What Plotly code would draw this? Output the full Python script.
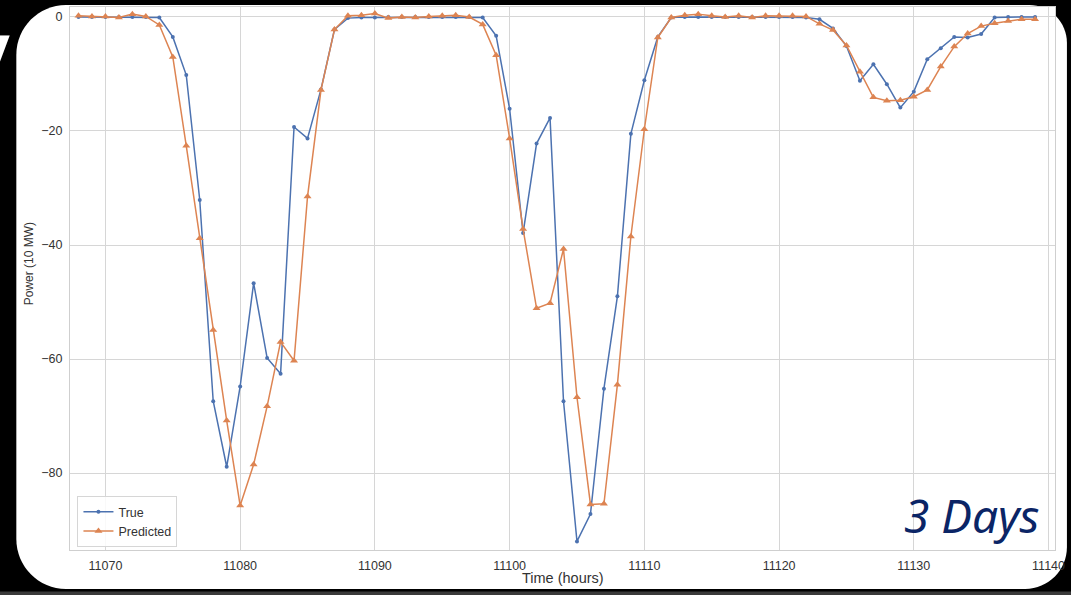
import plotly.graph_objects as go

# ---------------- data ----------------
hours = list(range(11068, 11140))

true_power = [
    0.0, 0.0, 0.0, 0.0, 0.0, 0.0, -0.1, -3.5, -10.2, -32.1,
    -67.4, -78.9, -64.8, -46.7, -59.8, -62.6, -19.3, -21.3, -12.7, -2.2,
    -0.2, -0.1, -0.1, 0.0, 0.0, 0.0, 0.0, 0.0, 0.0, 0.0,
    -0.1, -3.3, -16.1, -37.9, -22.2, -17.7, -67.4, -92.0, -87.2, -65.2,
    -49.0, -20.5, -11.1, -3.5, -0.1, 0.0, 0.0, 0.0, 0.0, 0.0,
    0.0, 0.0, 0.0, 0.0, -0.1, -0.4, -2.0, -5.1, -11.2, -8.3,
    -11.8, -15.9, -13.1, -7.4, -5.5, -3.5, -3.6, -3.0, -0.1, 0.0,
    0.0, 0.0,
]

predicted_power = [
    0.2, 0.1, 0.1, -0.1, 0.5, 0.1, -1.4, -7.0, -22.6, -38.8,
    -54.9, -70.8, -85.7, -78.5, -68.3, -57.0, -60.3, -31.5, -12.8, -2.2,
    0.2, 0.3, 0.6, -0.2, 0.0, -0.1, 0.1, 0.2, 0.3, 0.0,
    -1.3, -6.7, -21.3, -37.2, -51.1, -50.2, -40.7, -66.7, -85.5, -85.4,
    -64.5, -38.5, -19.7, -3.6, -0.1, 0.3, 0.5, 0.2, 0.0, 0.2,
    -0.1, 0.2, 0.2, 0.2, 0.1, -1.2, -2.3, -5.0, -9.6, -14.1,
    -14.7, -14.6, -14.0, -12.8, -8.7, -5.2, -2.9, -1.6, -1.1, -0.7,
    -0.4, -0.4,
]

x_ticks = [11070, 11080, 11090, 11100, 11110, 11120, 11130, 11140]
y_ticks = [0, -20, -40, -60, -80]
y_tick_text = ["0", "\u221220", "\u221240", "\u221260", "\u221280"]

# ---------------- layout geometry ----------------
W, H = 1071, 595
L, R, T, B = 70, 1061, 6, 550


def px(xpix):
    return (xpix - L) / (R - L)


def py(ypix):
    return (B - ypix) / (B - T)


def pt(xpix, ypix):
    return f"{px(xpix):.5f},{py(ypix):.5f}"


def rounded_rect(left, top, right, bottom, rtl, rtr, rbr, rbl):
    k = 0.5523
    p = []
    p.append("M" + pt(left + rtl, top))
    p.append("L" + pt(right - rtr, top))
    p.append("C" + pt(right - rtr + k * rtr, top) + " " + pt(right, top + rtr - k * rtr) + " " + pt(right, top + rtr))
    p.append("L" + pt(right, bottom - rbr))
    p.append("C" + pt(right, bottom - rbr + k * rbr) + " " + pt(right - rbr + k * rbr, bottom) + " " + pt(right - rbr, bottom))
    p.append("L" + pt(left + rbl, bottom))
    p.append("C" + pt(left + rbl - k * rbl, bottom) + " " + pt(left, bottom - rbl + k * rbl) + " " + pt(left, bottom - rbl))
    p.append("L" + pt(left, top + rtl))
    p.append("C" + pt(left, top + rtl - k * rtl) + " " + pt(left + rtl - k * rtl, top) + " " + pt(left + rtl, top))
    p.append("Z")
    return " ".join(p)


BLUE = "#4c72b0"
ORANGE = "#dd8452"
GRID = "#d6d6d6"
TXT = "#333333"
FONT = "Liberation Sans, Arial, sans-serif"

fig = go.Figure()
fig.add_trace(go.Scatter(
    x=hours, y=true_power, name="True", mode="lines+markers",
    line=dict(color=BLUE, width=1.5),
    marker=dict(symbol="circle", size=4, color=BLUE),
))
fig.add_trace(go.Scatter(
    x=hours, y=predicted_power, name="Predicted", mode="lines+markers",
    line=dict(color=ORANGE, width=1.5),
    marker=dict(symbol="triangle-up", size=7, color=ORANGE),
))

shapes = [
    dict(type="path", xref="paper", yref="paper", layer="below",
         path=rounded_rect(16, 4, 1073, 589, 50, 38, 42, 50),
         fillcolor="white", line=dict(width=0)),
    dict(type="rect", xref="paper", yref="paper", layer="below",
         x0=px(-10), x1=px(1090), y0=py(591.5), y1=py(610),
         fillcolor="#3a3a3a", line=dict(width=0)),
]

annotations = [
    dict(text="Time (hours)", xref="paper", yref="paper", x=0.5, y=py(578),
         xanchor="center", yanchor="middle", showarrow=False,
         font=dict(family=FONT, size=14.5, color=TXT)),
    dict(text="Power (10 MW)", xref="paper", yref="paper", x=px(29), y=py(263.5),
         xanchor="center", yanchor="middle", showarrow=False, textangle=-90,
         font=dict(family=FONT, size=12, color=TXT)),
    dict(text="3 Days", xref="paper", yref="paper", x=px(1047), y=py(515),
         xanchor="right", yanchor="middle", showarrow=False,
         font=dict(family="Noto Sans, Open Sans, sans-serif", size=46,
                   color="#0b2566", style="italic")),
    dict(text="y", xref="paper", yref="paper", x=px(12), y=py(-6),
         xanchor="right", yanchor="top", showarrow=False,
         font=dict(family="Open Sans, Noto Sans, sans-serif", size=75,
                   color="white", weight="bold")),
]

axis_common = dict(
    showgrid=True, gridcolor=GRID, gridwidth=1,
    showline=True, linecolor="#cfcfcf", linewidth=1, mirror=True,
    zeroline=False, ticks="outside", ticklen=4, tickcolor="rgba(0,0,0,0)",
    tickfont=dict(family=FONT, size=12.5, color=TXT),
)

fig.update_layout(
    width=W, height=H,
    margin=dict(l=L, r=W - R, t=T, b=H - B, pad=0),
    paper_bgcolor="black",
    plot_bgcolor="white",
    showlegend=True,
    legend=dict(
        x=px(77.5), y=py(547), xanchor="left", yanchor="bottom",
        bgcolor="rgba(255,255,255,0.85)", bordercolor="#d6d6d6", borderwidth=1,
        font=dict(family=FONT, size=12.5, color=TXT),
        tracegroupgap=0,
    ),
    shapes=shapes,
    annotations=annotations,
    xaxis=dict(range=[11067.37, 11140.48], tickvals=x_ticks,
               ticktext=[str(v) for v in x_ticks], **axis_common),
    yaxis=dict(range=[-93.5, 1.75], tickvals=y_ticks, ticktext=y_tick_text,
               **axis_common),
)

fig.write_html(
    "out.html",
    config={"displayModeBar": False},
    post_script="document.body.style.margin='0';document.body.style.overflow='hidden';document.body.style.background='black';",
)
